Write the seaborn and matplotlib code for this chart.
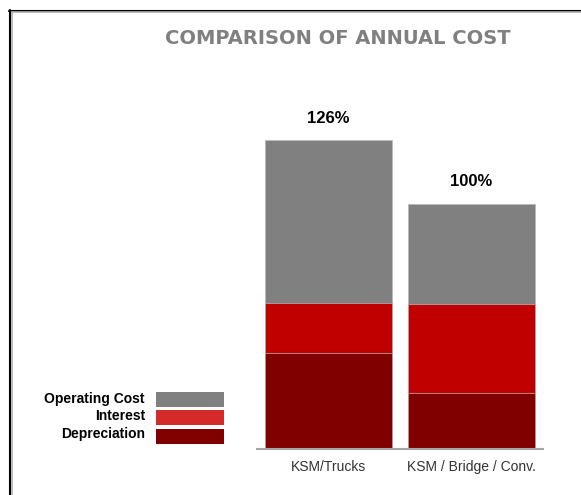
import matplotlib
matplotlib.use("Agg")
import matplotlib.pyplot as plt
import seaborn as sns
import pandas as pd
from matplotlib.patches import Rectangle
from matplotlib.lines import Line2D

# ---- data ----
categories = ["KSM/Trucks", "KSM / Bridge / Conv."]
depreciation = [39.0, 23.0]
interest = [20.5, 36.0]
operating_cost = [66.5, 41.0]
total_labels = ["126%", "100%"]
series_names = ["Operating Cost", "Interest", "Depreciation"]
title = "COMPARISON OF ANNUAL COST"

W, H = 581, 495
sns.set_theme(style="white")
plt.rcParams["font.family"] = ["Liberation Sans", "DejaVu Sans"]

fig = plt.figure(figsize=(W / 100, H / 100), dpi=100)
fig.patch.set_facecolor("white")

# axes placement (pixels)
x0, x1 = 257, 543
ybase = 449
ymax = 150
pxper = 2.452
ytop = ybase - ymax * pxper
ax = fig.add_axes([x0 / W, (H - ybase) / H, (x1 - x0) / W, (ybase - ytop) / H])
ax.set_facecolor("white")

df = pd.DataFrame({"cat": categories, "dep": depreciation,
                   "int": interest, "op": operating_cost})
df["c2"] = df["dep"] + df["int"]
df["c3"] = df["c2"] + df["op"]

bar_colors = {"Operating Cost": "#808080", "Interest": "#c00000", "Depreciation": "#800000"}
legend_colors = {"Operating Cost": "#808080", "Interest": "#d42a2a", "Depreciation": "#800000"}

for col, name in [("c3", "Operating Cost"), ("c2", "Interest"), ("dep", "Depreciation")]:
    sns.barplot(data=df, x="cat", y=col, order=categories, color=bar_colors[name],
                saturation=1, width=0.89, errorbar=None, edgecolor="#b8b8b8",
                linewidth=0.5, ax=ax)

for i, lab in enumerate(total_labels):
    ax.annotate(lab, xy=(i, df["c3"].iloc[i]), xytext=(0, 22), textcoords="offset pixels",
                ha="center", va="center", fontsize=12, fontweight="bold", color="black")

ax.set_xlim(-0.5, 1.5)
ax.set_ylim(0, ymax)
ax.set_xlabel("")
ax.set_ylabel("")
ax.set_yticks([])
ax.tick_params(axis="x", length=0, pad=8, labelsize=10, labelcolor="#333333")
for s in ["left", "top", "right"]:
    ax.spines[s].set_visible(False)
ax.spines["bottom"].set_color("#a6a6a6")
ax.spines["bottom"].set_linewidth(1.5)

# title
fig.text(338 / W, 1 - 39 / H, title, ha="center", va="center", color="#808080",
         fontsize=14, fontweight="bold", family=["DejaVu Sans"])

# legend (labels left, swatches right)
rows = [(series_names[0], 392, 402.7), (series_names[1], 410, 420), (series_names[2], 429, 438.3)]
for name, ytop_box, ybl in rows:
    fig.add_artist(Rectangle((156 / W, 1 - (ytop_box + 15) / H), 68 / W, 15 / H,
                             transform=fig.transFigure, facecolor=legend_colors[name],
                             edgecolor="none"))
    fig.text(145 / W, 1 - ybl / H, name, ha="right", va="baseline", fontsize=10,
             fontweight="bold", color="black")

# frame lines
fig.add_artist(Line2D([10 / W, 10 / W], [0, 1 - 10 / H], color="black", lw=1.5,
                      transform=fig.transFigure))
fig.add_artist(Line2D([9.3 / W, 1], [1 - 10.5 / H, 1 - 10.5 / H], color="black", lw=1.5,
                      transform=fig.transFigure))
fig.add_artist(Line2D([11.5 / W, 11.5 / W], [0, 1 - 11.5 / H], color="#b0b0b0", lw=1.2,
                      transform=fig.transFigure))
fig.add_artist(Line2D([11.5 / W, 1], [1 - 12 / H, 1 - 12 / H], color="#b0b0b0", lw=1.2,
                      transform=fig.transFigure))

fig.savefig("out.png", dpi=100)
